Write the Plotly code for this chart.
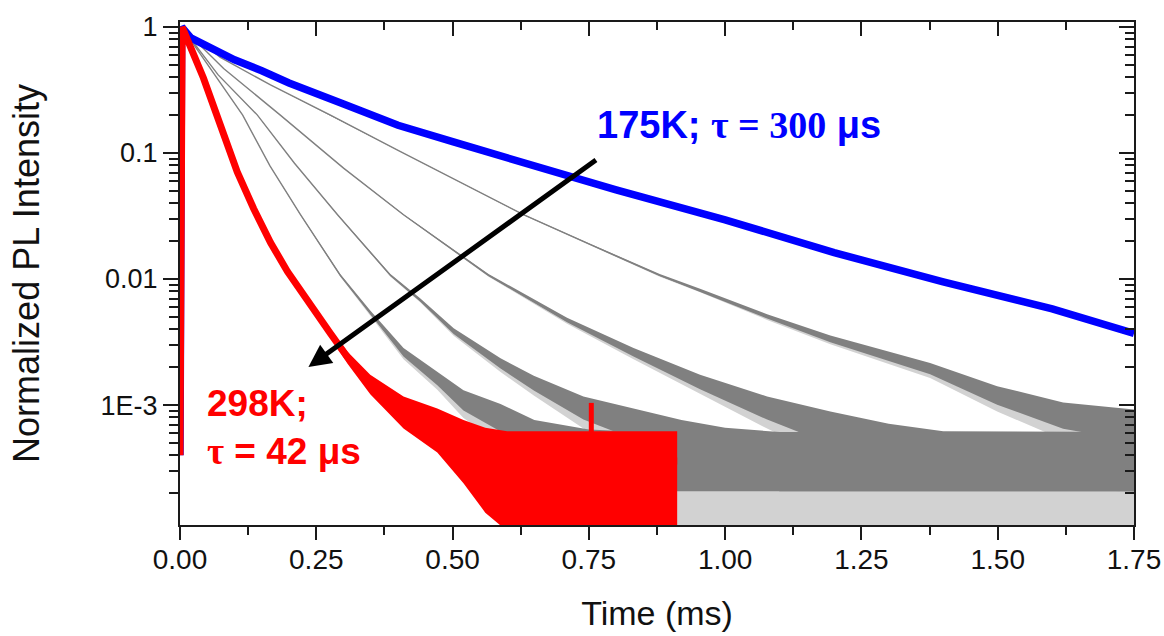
import plotly.graph_objects as go

# ---------------- data (time in ms, normalized PL intensity) ----------------
# 175 K curve (blue)
t_175K = [0.0, 0.003, 0.02, 0.05, 0.10, 0.15, 0.20, 0.30, 0.40, 0.50, 0.60, 0.80, 1.00, 1.20, 1.40, 1.60, 1.75]
i_175K = [4.0e-4, 1.0, 0.82, 0.71, 0.55, 0.45, 0.36, 0.245, 0.166, 0.123, 0.091, 0.051, 0.0295, 0.0162, 0.0095, 0.0058, 0.0037]

# intermediate temperatures (grey), slowest to fastest
t_grey_a = [0.003, 0.074, 0.166, 0.276, 0.40, 0.50, 0.63, 0.75, 0.88, 0.954, 1.077, 1.193, 1.376, 1.499, 1.62, 1.75]
i_grey_a = [1.0, 0.575, 0.347, 0.20, 0.105, 0.063, 0.0324, 0.019, 0.0107, 0.0081, 0.0050, 0.0033, 0.0019, 0.00115, 0.00079, 0.00066]

t_grey_b = [0.003, 0.08, 0.184, 0.30, 0.41, 0.566, 0.71, 0.832, 0.954, 1.077, 1.193, 1.30, 1.40, 1.75]
i_grey_b = [1.0, 0.468, 0.20, 0.0759, 0.0324, 0.0107, 0.00468, 0.00257, 0.00148, 0.00091, 0.00063, 0.00045, 0.00036, 0.00035]

t_grey_c = [0.003, 0.07, 0.142, 0.21, 0.289, 0.386, 0.441, 0.502, 0.588, 0.649, 0.74, 0.832, 0.92, 1.0, 1.1, 1.75]
i_grey_c = [1.0, 0.417, 0.20, 0.083, 0.0324, 0.0107, 0.00676, 0.0038, 0.00209, 0.00145, 0.00091, 0.00068, 0.0005, 0.0004, 0.00035, 0.00035]

t_grey_d = [0.003, 0.07, 0.115, 0.165, 0.221, 0.294, 0.349, 0.41, 0.472, 0.52, 0.588, 0.65, 0.75, 0.85, 1.75]
i_grey_d = [1.0, 0.38, 0.20, 0.079, 0.0324, 0.0107, 0.00537, 0.00257, 0.00158, 0.00105, 0.00076, 0.0005, 0.00038, 0.00035, 0.00035]

# 298 K curve (red)
t_298K = [0.0, 0.004, 0.043, 0.074, 0.105, 0.135, 0.166, 0.197, 0.239, 0.276, 0.307, 0.349, 0.41, 0.472,
          0.52, 0.56, 0.60, 0.912]
i_298K = [4.0e-4, 1.0, 0.394, 0.166, 0.0708, 0.0363, 0.0195, 0.0115, 0.00646, 0.0037, 0.0024, 0.00148, 0.00091, 0.00068,
          0.0005, 0.0004, 0.00036, 0.00036]
# single spike in the 298 K noise floor
t_298K_spike = [0.7545, 0.7545]
i_298K_spike = [0.00036, 0.00104]

# measurement noise amplitude read from the noise floor (linear units)
noise_grey = 2.6e-4
noise_red = 2.6e-4

x_ticks = [0.0, 0.25, 0.5, 0.75, 1.0, 1.25, 1.5, 1.75]
x_ticktext = ["0.00", "0.25", "0.50", "0.75", "1.00", "1.25", "1.50", "1.75"]
y_ticks = [1e-3, 1e-2, 1e-1, 1]
y_ticktext = ["1E-3", "0.01", "0.1", "1"]

# ---------------- styling ----------------
GREY = "#808080"
GREY_LIGHT = "#d2d2d2"
RED = "#ff0000"
BLUE = "#0000ff"
AX = "#1a1a1a"
FONT = "Liberation Sans, Arial, sans-serif"
Y_RANGE = [-3.952, 0.040]
X_RANGE = [0.0, 1.75]

y_minor = [m * 10.0 ** e for e in range(-4, 1) for m in range(2, 10)]


def band(t, v, up, lo):
    xs = list(t) + list(t)[::-1]
    ys = [a + up for a in v] + [max(a - lo, 1e-7) for a in v][::-1]
    return xs, ys


fig = go.Figure()

greys = [(t_grey_a, i_grey_a), (t_grey_b, i_grey_b), (t_grey_c, i_grey_c), (t_grey_d, i_grey_d)]

# light lower noise spikes
for t, v in greys:
    xs, ys = band(t, v, 0.0, noise_grey)
    fig.add_trace(go.Scatter(x=xs, y=ys, fill="toself", fillcolor=GREY_LIGHT, mode="lines",
                             line=dict(width=0), hoverinfo="skip", showlegend=False))
# dense noise band
for t, v in greys:
    xs, ys = band(t, v, noise_grey, 0.55 * noise_grey)
    fig.add_trace(go.Scatter(x=xs, y=ys, fill="toself", fillcolor=GREY, mode="lines",
                             line=dict(width=0), hoverinfo="skip", showlegend=False))
for t, v in greys:
    fig.add_trace(go.Scatter(x=t, y=v, mode="lines", line=dict(color=GREY, width=1.4),
                             hoverinfo="skip", showlegend=False))

# blue 175 K
fig.add_trace(go.Scatter(x=t_175K, y=i_175K, mode="lines", line=dict(color=BLUE, width=7.5),
                         name="175K", showlegend=False))

# red 298 K
xs, ys = band(t_298K[1:], i_298K[1:], noise_red, noise_red)
fig.add_trace(go.Scatter(x=xs, y=ys, fill="toself", fillcolor=RED, mode="lines",
                         line=dict(width=0), hoverinfo="skip", showlegend=False))
fig.add_trace(go.Scatter(x=t_298K, y=i_298K, mode="lines", line=dict(color=RED, width=7),
                         name="298K", showlegend=False))
fig.add_trace(go.Scatter(x=t_298K_spike, y=i_298K_spike, mode="lines", line=dict(color=RED, width=5),
                         hoverinfo="skip", showlegend=False))

# dummy trace for mirrored (inside-tick) axes on top/right
fig.add_trace(go.Scatter(x=[0.5], y=[0.1], xaxis="x2", yaxis="y2", mode="markers",
                         marker=dict(opacity=0), hoverinfo="skip", showlegend=False))

axis_common = dict(showgrid=False, zeroline=False, showline=True, linewidth=2, linecolor=AX,
                   tickcolor=AX, tickwidth=2, automargin=False)

fig.update_layout(
    width=1164, height=636,
    margin=dict(l=180, r=30, t=22, b=111),
    paper_bgcolor="white", plot_bgcolor="white",
    font=dict(family=FONT, color="#111111"),
    xaxis=dict(range=X_RANGE, tickmode="array", tickvals=x_ticks, ticktext=x_ticktext,
               ticks="outside", ticklen=13, tickfont=dict(size=28, family=FONT), ticklabelstandoff=-5,
               minor=dict(tickmode="linear", tick0=0, dtick=0.125, ticks="outside", ticklen=8,
                          tickwidth=2, tickcolor=AX),
               title=dict(text="Time (ms)", font=dict(size=34, family=FONT), standoff=28),
               **axis_common),
    yaxis=dict(type="log", range=Y_RANGE, tickmode="array", tickvals=y_ticks, ticktext=y_ticktext,
               ticks="outside", ticklen=15, tickfont=dict(size=27, family=FONT),
               minor=dict(tickmode="array", tickvals=y_minor, ticks="outside", ticklen=9,
                          tickwidth=2, tickcolor=AX),
               title=dict(text="Normalized PL Intensity", font=dict(size=36, family=FONT), standoff=50),
               **axis_common),
    xaxis2=dict(range=X_RANGE, overlaying="x", side="top", tickmode="array", tickvals=x_ticks,
                ticks="inside", ticklen=14, showticklabels=False,
                minor=dict(tickmode="linear", tick0=0, dtick=0.125, ticks="inside", ticklen=8,
                           tickwidth=2, tickcolor=AX),
                **axis_common),
    yaxis2=dict(type="log", range=Y_RANGE, overlaying="y", side="right", tickmode="array",
                tickvals=y_ticks, ticks="inside", ticklen=15, showticklabels=False,
                minor=dict(tickmode="array", tickvals=y_minor, ticks="inside", ticklen=9,
                           tickwidth=2, tickcolor=AX),
                **axis_common),
)

# arrow from 175K towards 298K
fig.add_annotation(x=0.2356, y=-2.698, xref="x", yref="y", text="", showarrow=True,
                   ax=289, ay=-208, arrowhead=2, arrowsize=0.9, arrowwidth=5, arrowcolor="#000000",
                   standoff=0)

fig.add_annotation(x=0.762, y=-0.778, xref="x", yref="y", xanchor="left", yanchor="middle",
                   showarrow=False, align="left",
                   text='<b>175K; <span style="font-family:Liberation Serif">τ = 300</span> μs</b>',
                   font=dict(size=38, color=BLUE, family=FONT))

fig.add_annotation(x=0.045, y=-3.175, xref="x", yref="y", xanchor="left", yanchor="middle",
                   showarrow=False, align="left",
                   text='<b>298K;<br><span style="font-family:Liberation Serif">τ</span> = 42 μs</b>',
                   font=dict(size=37, color=RED, family=FONT))

fig.write_html("out.html", config={"displayModeBar": False},
               post_script="document.body.style.margin='0';document.body.style.overflow='hidden';")
